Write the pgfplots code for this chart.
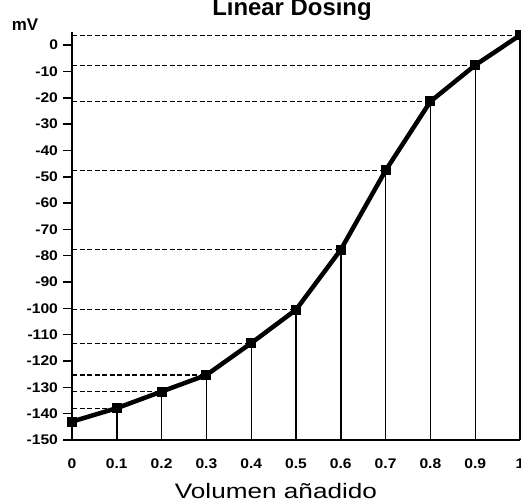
\documentclass[border=0pt]{standalone}
\usepackage{fontspec}
\setmainfont{Liberation Sans}
\usepackage{pgfplots}
\usepackage{pgfplotstable}
\pgfplotsset{compat=1.18}

\pgfplotstableread{
x    y
0    -143.0
0.1  -137.9
0.2  -131.6
0.3  -125.3
0.4  -113.2
0.5  -100.5
0.6  -77.7
0.7  -47.6
0.8  -21.4
0.9  -7.6
1.0  3.8
}\dosing

\begin{document}
\begin{tikzpicture}
\begin{axis}[
  at={(72bp,63bp)}, anchor=south west,
  scale only axis,
  width=448bp, height=408bp,
  xmin=0, xmax=1, ymin=-150, ymax=5,
  axis x line=bottom, axis y line=left,
  axis line style={-, line width=1.8bp},
  xtick={0,0.1,0.2,0.3,0.4,0.5,0.6,0.7,0.8,0.9,1},
  xticklabels={0,0.1,0.2,0.3,0.4,0.5,0.6,0.7,0.8,0.9,1},
  ytick={-150,-140,-130,-120,-110,-100,-90,-80,-70,-60,-50,-40,-30,-20,-10,0},
  /pgf/number format/assume math mode=true,
  ticklabel style={font=\bfseries\fontsize{14}{14}\selectfont, xscale=1.12},
  x tick label style={yshift=-6bp},
  y tick label style={xshift=-1bp},
  x tick style={draw=none},
  y tick style={line width=1.5bp, black},
  tick align=outside,
  major tick length=9bp,
  clip=false,
]
% horizontal dashed guides from the y axis
\addplot[xcomb, black, line width=1.2bp, dash pattern=on 5bp off 2.5bp] table[x=x,y=y] {\dosing};
% vertical drop lines to the x axis
\addplot[draw=none, mark=none, black,
  error bars/.cd, y dir=minus, y explicit,
  error mark=none, error bar style={line width=1.4bp, black}]
  table[x=x, y=y, y error expr=\thisrow{y}+150] {\dosing};
% titration curve
\addplot[black, line width=4.5bp, mark=square*, mark size=4.5bp,
  mark options={line width=0pt}] table[x=x,y=y] {\dosing};
\end{axis}
\node[anchor=base, font=\bfseries\fontsize{24}{24}\selectfont] at (292bp,487bp) {Linear Dosing};
\node[font=\bfseries\fontsize{17}{17}\selectfont] at (25bp,478bp) {mV};
\node[anchor=base, xscale=1.25, font=\fontsize{21}{21}\selectfont] at (276bp,5bp) {Volumen añadido};
\pgfresetboundingbox
\useasboundingbox (0,0) rectangle (521bp,503bp);
\end{tikzpicture}
\end{document}
